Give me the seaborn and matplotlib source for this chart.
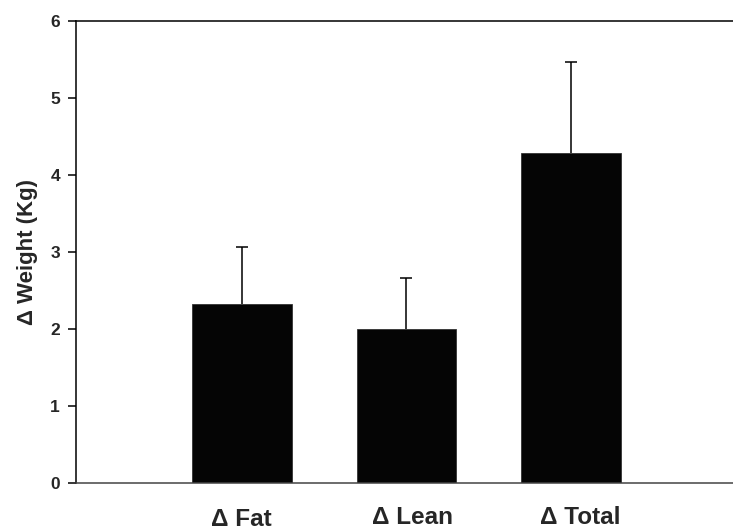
import matplotlib
matplotlib.use("Agg")
import matplotlib.pyplot as plt
import matplotlib.transforms as mtransforms
import seaborn as sns
import numpy as np
import pandas as pd

categories = ["\u0394 Fat", "\u0394 Lean", "\u0394 Total"]
means = [2.32, 2.00, 4.28]
errors = [0.75, 0.66, 1.19]
y_ticks = [0, 1, 2, 3, 4, 5, 6]
y_label = "\u0394 Weight (Kg)"

sns.set_theme(style="white")
plt.rcParams['font.family'] = ['Liberation Sans', 'DejaVu Sans']

df = pd.DataFrame({"cat": categories, "val": means})

fig = plt.figure(figsize=(7.33, 5.31), dpi=100)
ax = fig.add_axes([76/733, 1-483.3/531, 1-76/733, (483.3-20.7)/531])

sns.barplot(data=df, x="cat", y="val", color="#050505", edgecolor="#333333",
            linewidth=0.6, width=0.606, errorbar=None, ax=ax, saturation=1)
xpos = np.arange(len(categories))
eb = ax.errorbar(xpos, means, yerr=[np.zeros(len(errors)), errors], fmt="none",
                 ecolor="black", elinewidth=1.1, capsize=4.5, capthick=1.1, zorder=1)
# hide the lower caps (error bars go upward only)
eb[1][0].set_visible(False)

ax.set_xlim(-1.004, 2.98)
ax.set_ylim(0, 6)
ax.set_yticks(y_ticks)
ax.set_yticklabels([str(t) for t in y_ticks], fontsize=12.5, fontweight="bold")
ax.set_xticks(xpos)
ax.set_xticklabels(categories, fontsize=17.5, fontweight="bold")
ax.tick_params(axis="x", length=0, pad=16.5)
ax.tick_params(axis="y", direction="out", length=5.5, width=1.1, pad=6, left=True, color="black")
ax.set_xlabel("")
ax.set_ylabel(y_label, fontsize=16, fontweight="bold", labelpad=9)

# small label offsets seen in the original (points)
offsets = [(0, -1.5), (4.5, 0), (6.5, 0)]
for lbl, (dx, dy) in zip(ax.get_xticklabels(), offsets):
    lbl.set_transform(lbl.get_transform() +
                      mtransforms.ScaledTranslation(dx/72, dy/72, fig.dpi_scale_trans))

for s in ["left", "top", "bottom"]:
    ax.spines[s].set_visible(True)
    ax.spines[s].set_color("black")
    ax.spines[s].set_linewidth(1.1)
ax.spines["right"].set_visible(False)
ax.spines["bottom"].set_color("#444444")

fig.savefig("out.png", dpi=100)
